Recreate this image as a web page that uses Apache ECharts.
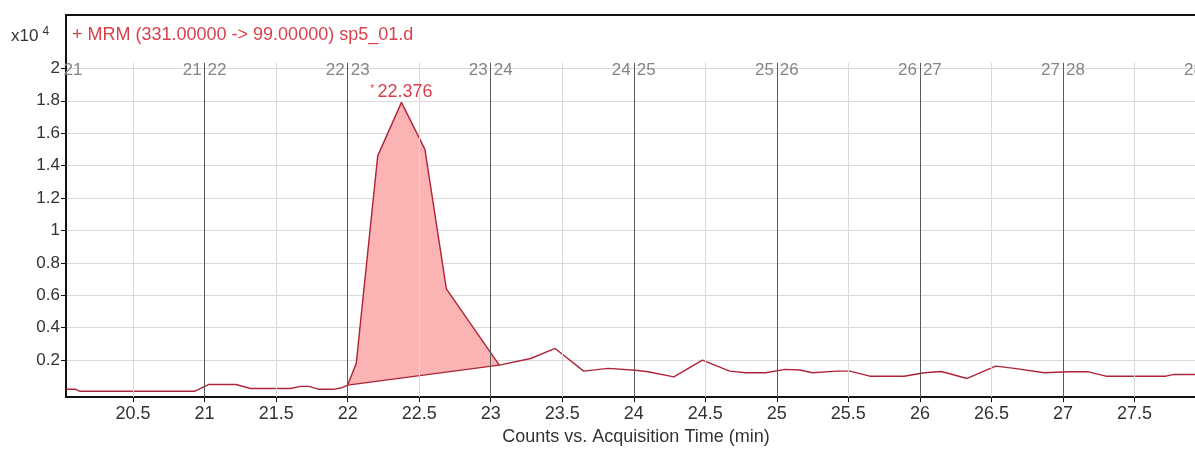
<!DOCTYPE html>
<html>
<head>
<meta charset="utf-8">
<title>MRM chromatogram</title>
<script src="https://cdn.jsdelivr.net/npm/echarts@6/dist/echarts.min.js"></script>
<style>
  html, body { margin: 0; padding: 0; background: #fff; overflow: hidden; }
  #ChartDom { width: 1206px; height: 451px; }
</style>
</head>
<body>
<div id="ChartDom"></div>
<script>
// acquisition time (min) and counts (x10^4)
const traceTime = [20.03, 20.1, 20.13, 20.93, 21.03, 21.22, 21.32, 21.6, 21.67, 21.73, 21.8, 21.9, 21.96, 22.0,
  22.06, 22.21, 22.376, 22.54, 22.69, 23.06,
  23.28, 23.45, 23.65, 23.82, 24.01, 24.1, 24.28, 24.48, 24.67, 24.78, 24.92, 25.06, 25.16, 25.25, 25.42,
  25.51, 25.65, 25.89, 26.03, 26.15, 26.33, 26.53, 26.66, 26.87, 27.04, 27.18, 27.3, 27.72, 27.77, 28.0]
const traceCounts = [0.02, 0.02, 0.008, 0.008, 0.05, 0.05, 0.025, 0.025, 0.038, 0.038, 0.02, 0.02, 0.03, 0.046,
  0.18, 1.46, 1.79, 1.5, 0.64, 0.169,
  0.21, 0.272, 0.132, 0.149, 0.138, 0.128, 0.097, 0.2, 0.132, 0.122, 0.122, 0.143, 0.139, 0.122, 0.132,
  0.132, 0.101, 0.101, 0.122, 0.13, 0.087, 0.163, 0.149, 0.122, 0.128, 0.128, 0.101, 0.101, 0.111, 0.111]

// integrated peak outline and its baseline
const peakTime = [22.0, 22.06, 22.21, 22.376, 22.54, 22.69, 23.06]
const peakCounts = [0.046, 0.18, 1.46, 1.79, 1.5, 0.64, 0.169]
const baselineTime = [22.0, 23.06]
const baselineCounts = [0.046, 0.169]
const peakRt = 22.376

// axis ticks and time segment boundaries
const xTicks = [20.5, 21, 21.5, 22, 22.5, 23, 23.5, 24, 24.5, 25, 25.5, 26, 26.5, 27, 27.5]
const yTicks = [0.2, 0.4, 0.6, 0.8, 1, 1.2, 1.4, 1.6, 1.8, 2]
const segmentBounds = [21, 22, 23, 24, 25, 26, 27, 28]
const firstSegment = 21

const xMin = 20.031
const xMax = 28
const yMin = -0.028
const yMax = 2.329
const gridTop = 2.034

const font = "Liberation Sans"
const red = "#ad2439"
const labelRed = "#d7414c"

function initChart() {
  const chartDom = document.getElementById("ChartDom")
  const myChart = echarts.init(chartDom, null, { renderer: "canvas" })

  const zip = (xs, ys) => xs.map((x, i) => [x, ys[i]])

  // vertical grid: light lines every half minute, dark lines at segment bounds
  const gridLines = xTicks.map((t) => [
    { coord: [t, yMin], lineStyle: { color: "#d9d9d9", width: 1, type: "solid" } },
    { coord: [t, gridTop] },
  ])
  const segLines = segmentBounds.map((t) => [
    { coord: [t, yMin], lineStyle: { color: "#5a5a5a", width: 1, type: "solid" } },
    { coord: [t, gridTop] },
  ])

  const segLabels = segmentBounds.map((t) => ({
    coord: [t, 2],
    label: {
      show: true,
      position: "inside",
      offset: [0, 2],
      formatter: "{a|" + t + "}{b|" + (t + 1) + "}",
    },
  }))
  segLabels.push({
    coord: [xMin, 2],
    label: {
      show: true,
      position: "right",
      distance: 0,
      offset: [-6, 2],
      formatter: "{b|" + firstSegment + "}",
    },
  })

  const segRich = {
    a: { color: "#858585", fontSize: 17, fontFamily: font, padding: [0, 3, 0, 0] },
    b: { color: "#858585", fontSize: 17, fontFamily: font, padding: [0, 0, 0, 3] },
  }

  let option = {
    animation: false,
    backgroundColor: "#ffffff",
    title: [
      {
        text: "+ MRM (331.00000 -> 99.00000) sp5_01.d",
        left: 72,
        top: 26,
        padding: 0,
        textStyle: { color: labelRed, fontSize: 18, fontWeight: "normal", fontFamily: font },
      },
      {
        text: "{a|x10}{b|4}",
        left: 11,
        top: 26,
        padding: 0,
        textStyle: {
          fontWeight: "normal",
          rich: {
            a: { color: "#333333", fontSize: 17, fontWeight: "normal", fontFamily: font },
            b: { color: "#333333", fontSize: 12, fontWeight: "normal", fontFamily: font, padding: [0, 0, 8, 4] },
          },
        },
      },
    ],
    grid: {
      left: 66,
      right: 0,
      top: 15,
      bottom: 53,
      show: true,
      borderColor: "#111111",
      borderWidth: 2,
      containLabel: false,
    },
    xAxis: {
      type: "value",
      min: xMin,
      max: xMax,
      name: "Counts vs. Acquisition Time (min)",
      nameLocation: "middle",
      nameGap: 30,
      nameTextStyle: { color: "#333333", fontSize: 18, fontFamily: font },
      axisLine: { show: true, onZero: false, lineStyle: { color: "#111111", width: 2 } },
      axisTick: { show: true, length: 5, customValues: xTicks, lineStyle: { color: "#111111" } },
      axisLabel: {
        color: "#333333",
        fontSize: 18,
        fontFamily: font,
        margin: 8,
        customValues: xTicks,
        formatter: (v) => String(v),
      },
      splitLine: { show: false },
    },
    yAxis: {
      type: "value",
      min: yMin,
      max: yMax,
      axisLine: { show: true, onZero: false, lineStyle: { color: "#111111", width: 2 } },
      axisTick: { show: true, length: 5, customValues: yTicks, lineStyle: { color: "#111111" } },
      axisLabel: {
        color: "#333333",
        fontSize: 17,
        fontFamily: font,
        margin: 6,
        customValues: yTicks,
        formatter: (v) => String(v),
      },
      splitLine: { show: true, lineStyle: { color: "#d9d9d9", width: 1 } },
    },
    series: [
      {
        name: "peak area",
        type: "custom",
        z: 1,
        silent: true,
        data: zip(peakTime, peakCounts),
        encode: { x: 0, y: 1 },
        renderItem: (params, api) => {
          if (params.dataIndex !== 0) return null
          const pts = peakTime.map((t, i) => api.coord([t, peakCounts[i]]))
          return {
            type: "polygon",
            shape: { points: pts },
            style: { fill: "#fcb3b3", stroke: null },
          }
        },
      },
      {
        name: "grid",
        type: "line",
        z: 2,
        data: [],
        markLine: {
          silent: true,
          symbol: ["none", "none"],
          label: { show: false },
          data: gridLines.concat(segLines),
        },
        markPoint: {
          silent: true,
          symbol: "circle",
          symbolSize: 1,
          itemStyle: { color: "rgba(0,0,0,0)" },
          label: { rich: segRich },
          data: segLabels,
        },
      },
      {
        name: "baseline",
        type: "line",
        z: 3,
        showSymbol: false,
        symbol: "none",
        data: zip(baselineTime, baselineCounts),
        lineStyle: { color: red, width: 1.4 },
      },
      {
        name: "MRM",
        type: "line",
        z: 4,
        showSymbol: false,
        symbol: "none",
        data: zip(traceTime, traceCounts),
        lineStyle: { color: red, width: 1.4 },
        markPoint: {
          silent: true,
          symbol: "circle",
          symbolSize: 1,
          itemStyle: { color: "rgba(0,0,0,0)" },
          data: [
            {
              coord: [peakRt, Math.max(...peakCounts)],
              label: {
                show: true,
                position: "top",
                distance: 1,
                formatter: "{s|*} {v|" + peakRt.toFixed(3) + "}",
                rich: {
                  s: { color: labelRed, fontSize: 10, fontFamily: font, padding: [0, 0, 6, 0] },
                  v: { color: labelRed, fontSize: 18, fontFamily: font },
                },
              },
            },
          ],
        },
      },
    ],
  }
  myChart.setOption(option)
}

initChart()
</script>
</body>
</html>
